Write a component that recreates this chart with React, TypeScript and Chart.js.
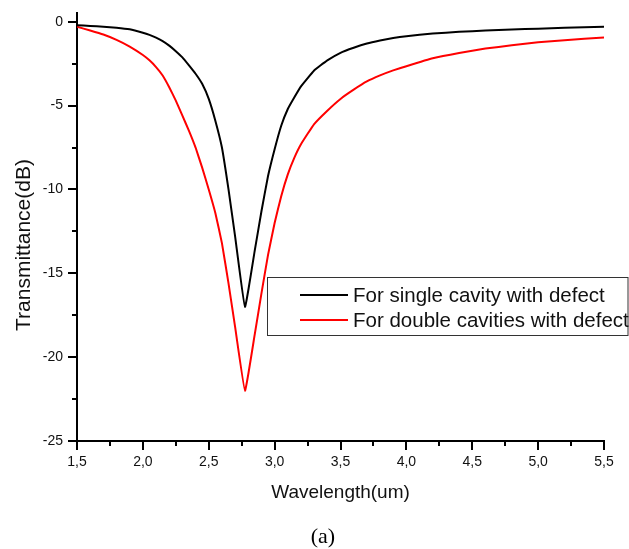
import React, { useEffect, useRef } from 'react';
import { Chart, registerables } from 'chart.js';

Chart.register(...registerables);

const singleWavelength = [1.5, 1.6, 1.7, 1.8, 1.9, 2.0, 2.05, 2.1, 2.15, 2.2, 2.25, 2.3, 2.35, 2.4, 2.45, 2.5, 2.55, 2.6, 2.65, 2.7, 2.775, 2.85, 2.9, 2.95, 3.0, 3.05, 3.1, 3.15, 3.2, 3.3, 3.4, 3.5, 3.6, 3.7, 3.8, 3.9, 4.0, 4.2, 4.4, 4.6, 4.8, 5.0, 5.2, 5.5];
const singleTransmittance = [-0.2, -0.25, -0.29, -0.35, -0.45, -0.65, -0.78, -0.95, -1.15, -1.42, -1.75, -2.12, -2.6, -3.1, -3.7, -4.6, -5.9, -7.5, -10.0, -12.8, -17.0, -13.6, -11.3, -9.2, -7.6, -6.2, -5.2, -4.5, -3.85, -2.9, -2.3, -1.85, -1.55, -1.3, -1.12, -0.97, -0.86, -0.7, -0.6, -0.52, -0.46, -0.41, -0.36, -0.3];

const doubleWavelength = [1.5, 1.6, 1.7, 1.8, 1.9, 2.0, 2.05, 2.1, 2.15, 2.2, 2.25, 2.3, 2.35, 2.4, 2.45, 2.5, 2.55, 2.6, 2.65, 2.7, 2.775, 2.85, 2.9, 2.95, 3.0, 3.05, 3.1, 3.15, 3.2, 3.3, 3.4, 3.5, 3.6, 3.7, 3.8, 3.9, 4.0, 4.2, 4.4, 4.6, 4.8, 5.0, 5.2, 5.5];
const doubleTransmittance = [-0.3, -0.52, -0.76, -1.08, -1.48, -1.98, -2.3, -2.7, -3.2, -3.9, -4.7, -5.6, -6.5, -7.5, -8.7, -10.0, -11.4, -13.2, -15.6, -18.2, -22.0, -18.6, -16.2, -13.9, -12.0, -10.4, -9.1, -8.1, -7.3, -6.1, -5.3, -4.6, -4.05, -3.56, -3.2, -2.9, -2.65, -2.18, -1.86, -1.6, -1.4, -1.22, -1.1, -0.93];

const seriesLabels = ['For single cavity with defect', 'For double cavities with defect'];
const seriesColors = ['#000000', '#ff0000'];

const xTickValues = [1.5, 2.0, 2.5, 3.0, 3.5, 4.0, 4.5, 5.0, 5.5];
const xTickLabels = ['1,5', '2,0', '2,5', '3,0', '3,5', '4,0', '4,5', '5,0', '5,5'];
const xMinorTicks = [1.75, 2.25, 2.75, 3.25, 3.75, 4.25, 4.75, 5.25];
const yTickValues = [-25, -20, -15, -10, -5, 0];
const yTickLabels = ['-25', '-20', '-15', '-10', '-5', '0'];
const yMinorTicks = [-22.5, -17.5, -12.5, -7.5, -2.5];

const xTitle = 'Wavelength(um)';
const yTitle = 'Transmittance(dB)';
const caption = '(a)';

const SANS = "'Liberation Sans', Arial, sans-serif";

const minorTicksPlugin = {
  id: 'minorTicks',
  afterDraw(chart: any) {
    const { ctx, chartArea, scales } = chart;
    ctx.save();
    ctx.strokeStyle = '#000';
    ctx.lineWidth = 2;
    ctx.beginPath();
    xMinorTicks.forEach((v) => {
      const px = Math.round(scales.x.getPixelForValue(v));
      ctx.moveTo(px, chartArea.bottom);
      ctx.lineTo(px, chartArea.bottom + 5);
    });
    yMinorTicks.forEach((v) => {
      const py = Math.round(scales.y.getPixelForValue(v));
      ctx.moveTo(chartArea.left, py);
      ctx.lineTo(chartArea.left - 5, py);
    });
    ctx.stroke();
    ctx.restore();
  },
};

const yTitlePlugin = {
  id: 'yTitle',
  afterDraw(chart: any) {
    const { ctx } = chart;
    ctx.save();
    ctx.translate(24, 245);
    ctx.rotate(-Math.PI / 2);
    ctx.font = `21px ${SANS}`;
    ctx.fillStyle = '#111';
    ctx.textAlign = 'center';
    ctx.textBaseline = 'middle';
    ctx.fillText(yTitle, 0, 0);
    ctx.restore();
  },
};

const legendBoxPlugin = {
  id: 'legendBox',
  afterDraw(chart: any) {
    const { ctx } = chart;
    const left = 267.5;
    const top = 277.5;
    const right = 628;
    const bottom = 335.5;
    ctx.save();
    ctx.strokeStyle = '#333';
    ctx.lineWidth = 1;
    ctx.strokeRect(left, top, right - left, bottom - top);
    ctx.font = `20.5px ${SANS}`;
    ctx.textBaseline = 'middle';
    ctx.textAlign = 'left';
    chart.data.datasets.forEach((ds: any, i: number) => {
      const y = 295 + i * 25;
      ctx.strokeStyle = ds.borderColor;
      ctx.lineWidth = 2;
      ctx.beginPath();
      ctx.moveTo(300, y);
      ctx.lineTo(348, y);
      ctx.stroke();
      ctx.fillStyle = '#111';
      ctx.fillText(ds.label, 353, y + 1);
    });
    ctx.restore();
  },
};

export default function App() {
  const canvasRef = useRef<HTMLCanvasElement | null>(null);

  useEffect(() => {
    if (!canvasRef.current) return;
    const chart = new Chart(canvasRef.current, {
      type: 'line',
      data: {
        datasets: [
          {
            label: seriesLabels[0],
            data: singleWavelength.map((x, i) => ({ x, y: singleTransmittance[i] })),
            borderColor: seriesColors[0],
            backgroundColor: seriesColors[0],
            borderWidth: 2,
            pointRadius: 0,
            tension: 0.1,
            fill: false,
          },
          {
            label: seriesLabels[1],
            data: doubleWavelength.map((x, i) => ({ x, y: doubleTransmittance[i] })),
            borderColor: seriesColors[1],
            backgroundColor: seriesColors[1],
            borderWidth: 2,
            pointRadius: 0,
            tension: 0.1,
            fill: false,
          },
        ],
      },
      options: {
        animation: false,
        responsive: false,
        devicePixelRatio: 1,
        layout: { padding: { left: 0, top: 12, right: 25, bottom: 0 } },
        plugins: {
          legend: { display: false },
          tooltip: { enabled: false },
        },
        scales: {
          x: {
            type: 'linear',
            min: 1.5,
            max: 5.5,
            afterFit(scale: any) {
              scale.height = 108;
            },
            afterBuildTicks(scale: any) {
              scale.ticks = xTickValues.map((v) => ({ value: v }));
            },
            ticks: {
              padding: 4,
              color: '#111',
              font: { family: SANS, size: 14 },
              maxRotation: 0,
              callback: (v: any) => {
                const idx = xTickValues.findIndex((t) => Math.abs(t - Number(v)) < 1e-6);
                return idx >= 0 ? xTickLabels[idx] : '';
              },
            },
            grid: {
              drawOnChartArea: false,
              drawTicks: true,
              tickLength: 9,
              color: '#000',
              lineWidth: 2,
            },
            border: { display: true, color: '#000', width: 2 },
            title: {
              display: true,
              text: xTitle,
              color: '#111',
              font: { family: SANS, size: 19 },
              padding: { top: 0, bottom: 45 },
            },
          },
          y: {
            type: 'linear',
            min: -25,
            max: 0.5,
            afterFit(scale: any) {
              scale.width = 77;
            },
            afterBuildTicks(scale: any) {
              scale.ticks = yTickValues.map((v) => ({ value: v }));
            },
            ticks: {
              padding: 5,
              color: '#111',
              font: { family: SANS, size: 14 },
              callback: (v: any) => {
                const idx = yTickValues.findIndex((t) => Math.abs(t - Number(v)) < 1e-6);
                return idx >= 0 ? yTickLabels[idx] : '';
              },
            },
            grid: {
              drawOnChartArea: false,
              drawTicks: true,
              tickLength: 9,
              color: '#000',
              lineWidth: 2,
            },
            border: { display: true, color: '#000', width: 2 },
            title: { display: false },
          },
        },
      },
      plugins: [minorTicksPlugin, yTitlePlugin, legendBoxPlugin],
    } as any);
    return () => chart.destroy();
  }, []);

  return (
    <div style={{ position: 'absolute', left: 0, top: 0, width: 629, height: 549, background: '#fff' }}>
      <canvas ref={canvasRef} width={629} height={549} style={{ display: 'block' }} />
      <div
        style={{
          position: 'absolute',
          left: 0,
          width: 646,
          top: 523,
          textAlign: 'center',
          fontFamily: "'Liberation Serif', 'DejaVu Serif', serif",
          fontSize: 22,
          lineHeight: '26px',
          color: '#000',
        }}
      >
        {caption}
      </div>
    </div>
  );
}
